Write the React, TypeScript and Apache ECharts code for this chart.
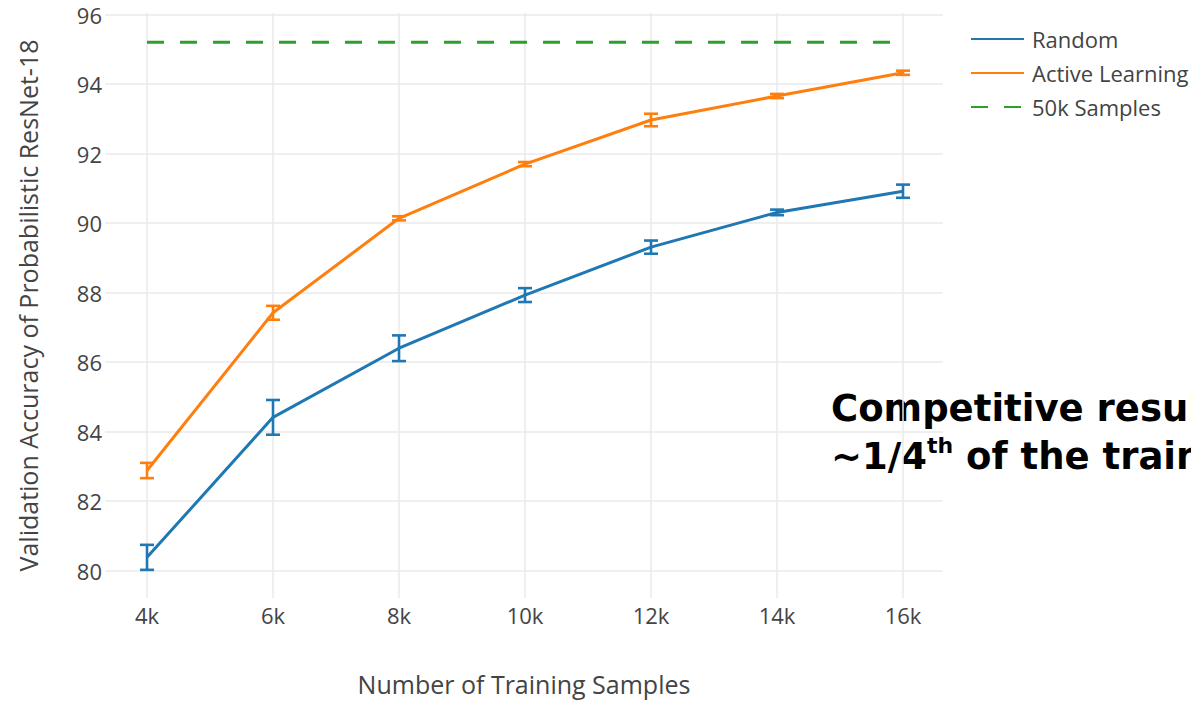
import React, { useEffect, useRef } from "react";
import * as echarts from "echarts";

const xValues = [4, 6, 8, 10, 12, 14, 16];
const xTickValues = [4, 6, 8, 10, 12, 14, 16];
const yTickValues = [80, 82, 84, 86, 88, 90, 92, 94, 96];
const randomMean = [80.38, 84.41, 86.4, 87.93, 89.31, 90.31, 90.92];
const randomErr = [0.36, 0.5, 0.37, 0.2, 0.19, 0.08, 0.19];
const activeMean = [82.88, 87.42, 90.14, 91.7, 92.97, 93.66, 94.33];
const activeErr = [0.22, 0.2, 0.06, 0.06, 0.18, 0.06, 0.06];
const fullX = [4, 16];
const fullY = [95.21, 95.21];

const BLUE = "#1f77b4";
const ORANGE = "#ff7f0e";
const GREEN = "#2ca02c";
const FONT = "Open Sans";
const TEXT = "#444";
const BOLD = "DejaVu Sans";

function errorSeries(mean: number[], err: number[], color: string) {
  return {
    type: "custom",
    silent: true,
    z: 3,
    data: xValues.map((x, i) => [x, mean[i] - err[i], mean[i] + err[i]]),
    renderItem: (params: any, api: any) => {
      const x = api.value(0);
      const lo = api.coord([x, api.value(1)]);
      const hi = api.coord([x, api.value(2)]);
      const half = 7;
      const style = { stroke: color, lineWidth: 2.6, fill: "none" };
      return {
        type: "group",
        children: [
          { type: "line", shape: { x1: lo[0], y1: lo[1], x2: hi[0], y2: hi[1] }, style },
          { type: "line", shape: { x1: lo[0] - half, y1: lo[1], x2: lo[0] + half, y2: lo[1] }, style },
          { type: "line", shape: { x1: hi[0] - half, y1: hi[1], x2: hi[0] + half, y2: hi[1] }, style },
        ],
      };
    },
  };
}

export default function App() {
  const ref = useRef<HTMLDivElement>(null);
  useEffect(() => {
    document.body.style.margin = "0";
    const chart = echarts.init(ref.current!, null, { renderer: "svg" });
    chart.setOption({
      animation: false,
      backgroundColor: "#fff",
      grid: {
        left: 105,
        top: 13,
        width: 838,
        height: 585,
        containLabel: false,
        outerBoundsMode: "none",
      },
      legend: {
        data: ["Random", "Active Learning", "50k Samples"],
        orient: "vertical",
        left: 970,
        top: 28,
        padding: 0,
        itemWidth: 53,
        itemHeight: 14,
        itemGap: 12,
        itemStyle: { opacity: 0 },
        textStyle: { fontFamily: FONT, fontSize: 22, color: TEXT, padding: [0, 0, 0, 3] },
      },
      xAxis: {
        type: "value",
        min: 3.333,
        max: 16.635,
        name: "Number of Training Samples",
        nameLocation: "middle",
        nameGap: 73,
        nameTextStyle: { fontFamily: FONT, fontSize: 25, color: TEXT },
        axisLine: { show: false },
        axisTick: { show: false, customValues: xTickValues },
        axisLabel: {
          customValues: xTickValues,
          formatter: (v: number) => `${v}k`,
          fontFamily: FONT,
          fontSize: 22,
          color: TEXT,
          margin: 6,
        },
        splitLine: { show: true, lineStyle: { color: "#eaeaea", width: 1.5 } },
      },
      yAxis: {
        type: "value",
        min: 79.21,
        max: 96.05,
        name: "Validation Accuracy of Probabilistic ResNet-18",
        nameLocation: "middle",
        nameGap: 65,
        nameTextStyle: { fontFamily: FONT, fontSize: 25, color: TEXT },
        axisLine: { show: false },
        axisTick: { show: false, customValues: yTickValues },
        axisLabel: {
          customValues: yTickValues,
          fontFamily: FONT,
          fontSize: 22,
          color: TEXT,
          margin: 3,
        },
        splitLine: { show: true, lineStyle: { color: "#eaeaea", width: 1.5 } },
      },
      series: [
        {
          name: "Random",
          type: "line",
          symbol: "none",
          z: 4,
          lineStyle: { color: BLUE, width: 3 },
          itemStyle: { color: BLUE },
          data: xValues.map((x, i) => [x, randomMean[i]]),
        },
        {
          name: "Active Learning",
          type: "line",
          symbol: "none",
          z: 4,
          lineStyle: { color: ORANGE, width: 3 },
          itemStyle: { color: ORANGE },
          data: xValues.map((x, i) => [x, activeMean[i]]),
        },
        {
          name: "50k Samples",
          type: "line",
          symbol: "none",
          z: 4,
          lineStyle: { color: GREEN, width: 3, type: [17, 16] },
          itemStyle: { color: GREEN },
          data: fullX.map((x, i) => [x, fullY[i]]),
        },
        errorSeries(randomMean, randomErr, BLUE),
        errorSeries(activeMean, activeErr, ORANGE),
      ],
      graphic: [
        {
          type: "text",
          left: 831,
          top: 390,
          style: {
            text: "Competitive results with",
            fontFamily: BOLD,
            fontWeight: "bold",
            fontSize: 37,
            fill: "#000",
          },
        },
        {
          type: "text",
          left: 831,
          top: 434,
          style: {
            text: "{a|~1/4}{s|th}{a| of the training data}",
            rich: {
              a: { fontFamily: BOLD, fontWeight: "bold", fontSize: 37, lineHeight: 44, fill: "#000" },
              s: { fontFamily: BOLD, fontWeight: "bold", fontSize: 22, lineHeight: 22, verticalAlign: "top", fill: "#000" },
            },
          },
        },
      ],
    });
    return () => chart.dispose();
  }, []);
  return <div ref={ref} style={{ width: 1191, height: 701, overflow: "hidden" }} />;
}
